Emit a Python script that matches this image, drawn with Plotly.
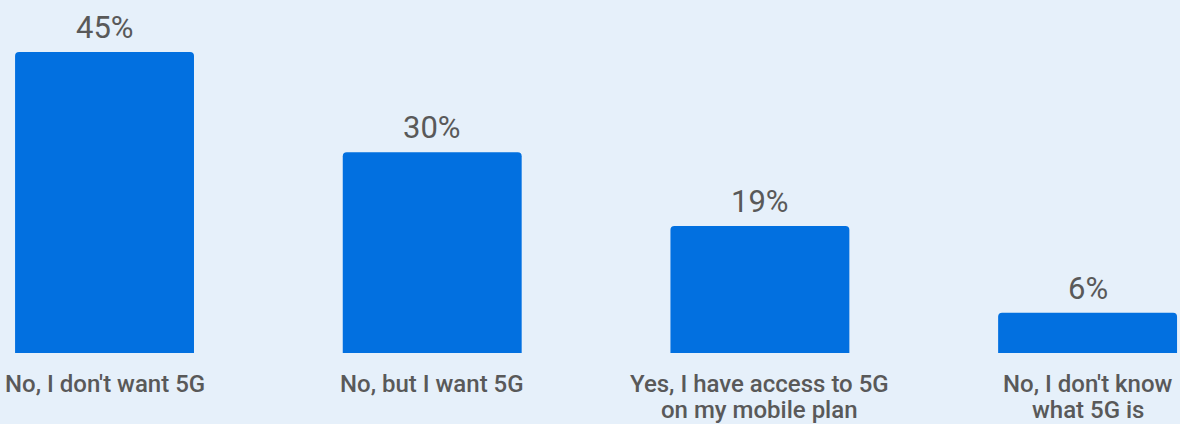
import plotly.graph_objects as go

# Survey answers and their shares (%)
categories = [
    ["No, I don't want 5G"],
    ["No, but I want 5G"],
    ["Yes, I have access to 5G", "on my mobile plan"],
    ["No, I don't know", "what 5G is"],
]
shares = [45, 30, 19, 6]
positions = [0, 1, 2, 3]

BLUE = "#0270e0"
BG = "#e6f0fa"
GREY = "#595959"

fig = go.Figure(
    go.Bar(
        x=positions,
        y=shares,
        width=0.546,
        marker=dict(color=BLUE, line=dict(width=0), cornerradius=4),
        hoverinfo="skip",
    )
)

# Value labels just above each bar
for xv, v in zip(positions, shares):
    fig.add_annotation(
        x=xv, y=v, xref="x", yref="y",
        yanchor="bottom", yshift=4,
        text=f"{v}%", showarrow=False,
        font=dict(family="Roboto", size=31, color=GREY),
    )

# Category labels under each bar, one annotation per line
for xv, lines in zip(positions, categories):
    for i, line in enumerate(lines):
        fig.add_annotation(
            x=xv, y=0, xref="x", yref="paper",
            yanchor="top", yshift=-15 - 25.5 * i,
            text=line, showarrow=False,
            font=dict(family="Roboto", size=24, color=GREY, weight=500),
        )

fig.update_layout(
    width=1180, height=424,
    margin=dict(l=0, r=0, t=0, b=71),
    paper_bgcolor=BG, plot_bgcolor=BG,
    showlegend=False,
    xaxis=dict(range=[-0.319, 3.282], visible=False, fixedrange=True),
    yaxis=dict(range=[0, 52.77], visible=False, fixedrange=True),
)

fig.write_html("out.html")
